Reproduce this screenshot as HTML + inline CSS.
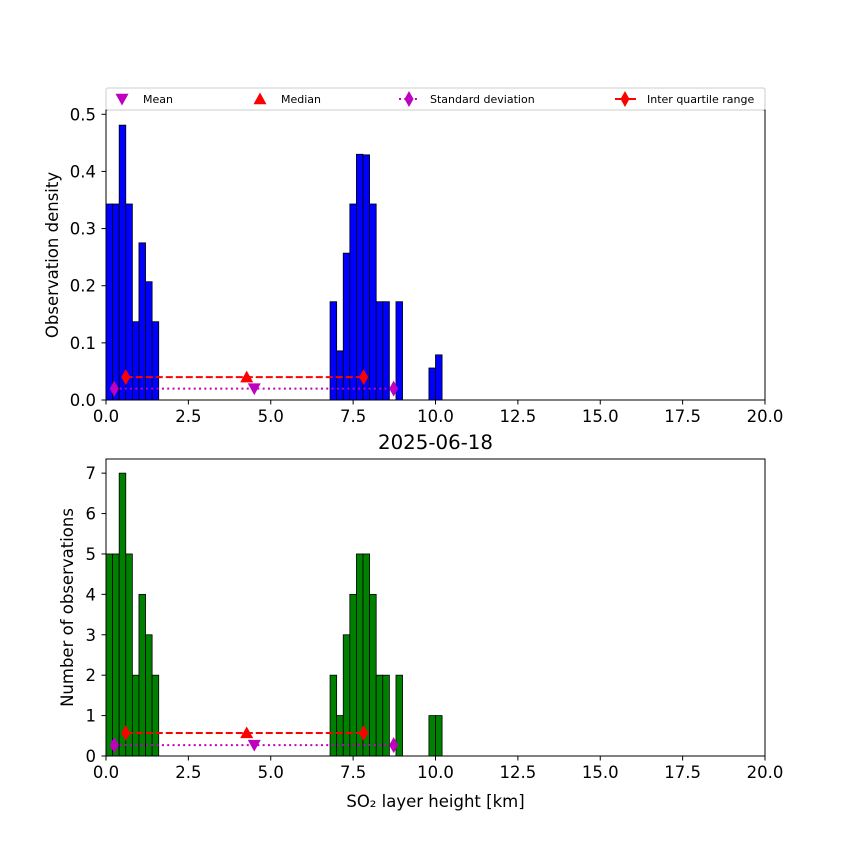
<!DOCTYPE html>
<html><head><meta charset="utf-8"><style>
body{margin:0;background:#fff}
svg{display:block;font-family:"DejaVu Sans","Liberation Sans",sans-serif}
</style></head><body>
<svg id="chart" width="850" height="850" viewBox="0 0 850 850" xmlns="http://www.w3.org/2000/svg"></svg>
<script>
// ---- data ----
const binStarts = [0,0.2,0.4,0.6,0.8,1.0,1.2,1.4, 6.8,7.0,7.2,7.4,7.6,7.8,8.0,8.2,8.4,8.8, 9.8,10.0];
const binWidth = 0.2;
const densityValues = [0.343,0.343,0.481,0.343,0.137,0.275,0.207,0.137, 0.172,0.086,0.257,0.343,0.430,0.429,0.343,0.172,0.172,0.172, 0.056,0.079];
const countValues = [5,5,7,5,2,4,3,2, 2,1,3,4,5,5,4,2,2,2, 1,1];
const xTicks = [0,2.5,5,7.5,10,12.5,15,17.5,20];
const xTickLabels = ["0.0","2.5","5.0","7.5","10.0","12.5","15.0","17.5","20.0"];
const topYTicks = [0,0.1,0.2,0.3,0.4,0.5];
const topYTickLabels = ["0.0","0.1","0.2","0.3","0.4","0.5"];
const botYTicks = [0,1,2,3,4,5,6,7];
const botYTickLabels = ["0","1","2","3","4","5","6","7"];
const meanVal = 4.5, medianVal = 4.27;
const iqrRange = [0.6, 7.82];
const stdRange = [0.25, 8.73];
const topMarkerY = [0.04, 0.02];
const botMarkerY = [0.57, 0.27];

const NS = "http://www.w3.org/2000/svg";
const svg = document.getElementById('chart');
const FS = 16.5;
function el(tag, attrs, parent){const e=document.createElementNS(NS,tag);for(const k in attrs)e.setAttribute(k,attrs[k]);(parent||svg).appendChild(e);return e;}

function tri(x,y,down,color,parent,name){
  const s=6.5;
  const p = down ? `${x-s},${y-s*0.8} ${x+s},${y-s*0.8} ${x},${y+s}` : `${x-s},${y+s*0.8} ${x+s},${y+s*0.8} ${x},${y-s}`;
  const e=el('polygon',{points:p,fill:color},parent);
  
  
}
function diamond(x,y,color,parent,name){
  const e=el('polygon',{points:`${x},${y-8} ${x+4.5},${y} ${x},${y+8} ${x-4.5},${y}`,fill:color},parent);
  
  
}

function panel(cfg){
  const g=el('g',{});
  
  
  const L=106,R=765,T=cfg.top,B=cfg.bottom;
  const xs=v=>L+(v-0)/(20-0)*(R-L);
  const ys=v=>B-(v/cfg.ymax)*(B-T);
  for(let i=0;i<binStarts.length;i++){
    const x0=xs(binStarts[i]),x1=xs(binStarts[i]+binWidth),y=ys(cfg.values[i]);
    const r=el('rect',{x:x0,y:y,width:x1-x0,height:B-y,fill:cfg.color,stroke:'#000','stroke-width':0.8},g);
    
    
  }
  const yI=ys(cfg.marker[0]), yS=ys(cfg.marker[1]);
  const li=el('line',{x1:xs(iqrRange[0]),x2:xs(iqrRange[1]),y1:yI,y2:yI,stroke:'#ff0000','stroke-width':2,'stroke-dasharray':'7,3'},g);
  
  
  const ls=el('line',{x1:xs(stdRange[0]),x2:xs(stdRange[1]),y1:yS,y2:yS,stroke:'#bf00bf','stroke-width':2,'stroke-dasharray':'2,3.3'},g);
  
  
  diamond(xs(iqrRange[0]),yI,'#ff0000',g,'iqr-low-marker');
  diamond(xs(iqrRange[1]),yI,'#ff0000',g,'iqr-high-marker');
  diamond(xs(stdRange[0]),yS,'#bf00bf',g,'std-low-marker');
  diamond(xs(stdRange[1]),yS,'#bf00bf',g,'std-high-marker');
  tri(xs(medianVal),yI,false,'#ff0000',g,'median-marker');
  tri(xs(meanVal),yS,true,'#bf00bf',g,'mean-marker');
  const f=el('rect',{x:L,y:T,width:R-L,height:B-T,fill:'none',stroke:'#000','stroke-width':1},g);
  
  
  xTicks.forEach((v,i)=>{
    const x=xs(v);
    el('line',{x1:x,x2:x,y1:B,y2:B+4.5,stroke:'#000','stroke-width':1},g);
    const t=el('text',{x:x,y:B+22,'font-size':FS,'text-anchor':'middle',fill:'#000'},g);
    t.textContent=xTickLabels[i];
    
    
  });
  cfg.yticks.forEach((v,i)=>{
    const y=ys(v);
    el('line',{x1:L-4.5,x2:L,y1:y,y2:y,stroke:'#000','stroke-width':1},g);
    const t=el('text',{x:L-10,y:y+6,'font-size':FS,'text-anchor':'end',fill:'#000'},g);
    t.textContent=cfg.ylabels[i];
    
    
  });
  const yt=el('text',{x:0,y:0,'font-size':FS,'text-anchor':'middle',transform:`translate(${cfg.ytitleX},${(T+B)/2}) rotate(-90)`},g);
  yt.textContent=cfg.ytitle;
  
  
}

panel({name:'density-panel',top:110,bottom:400,ymax:0.5075,color:'#0000ff',values:densityValues,marker:topMarkerY,yticks:topYTicks,ylabels:topYTickLabels,ytitle:'Observation density',ytitleX:58});
panel({name:'count-panel',top:459,bottom:756,ymax:7.35,color:'#008000',values:countValues,marker:botMarkerY,yticks:botYTicks,ylabels:botYTickLabels,ytitle:'Number of observations',ytitleX:73});

const title=el('text',{x:435.5,y:449,'font-size':19.8,'text-anchor':'middle'});
title.textContent='2025-06-18';


const xt=el('text',{x:435.5,y:807,'font-size':FS,'text-anchor':'middle'});
xt.textContent='SO₂ layer height [km]';



const lg=el('g',{});


el('rect',{x:106,y:88,width:659,height:22,fill:'#fff',stroke:'#ccc','stroke-width':1,rx:2},lg);
tri(122,99,true,'#bf00bf',lg,'legend-mean-marker');
tri(260,99,false,'#ff0000',lg,'legend-median-marker');
el('line',{x1:399,x2:420,y1:99,y2:99,stroke:'#bf00bf','stroke-width':2,'stroke-dasharray':'2,3.3'},lg);
diamond(409,99,'#bf00bf',lg,'legend-std-marker');
el('line',{x1:615,x2:636,y1:99,y2:99,stroke:'#ff0000','stroke-width':2},lg);
diamond(625,99,'#ff0000',lg,'legend-iqr-marker');
[['Mean',143],['Median',281],['Standard deviation',430],['Inter quartile range',647]].forEach(([s,x])=>{
  const t=el('text',{x:x,y:103,'font-size':11,fill:'#000'},lg);
  t.textContent=s;
  
  
});
</script>
</body></html>
